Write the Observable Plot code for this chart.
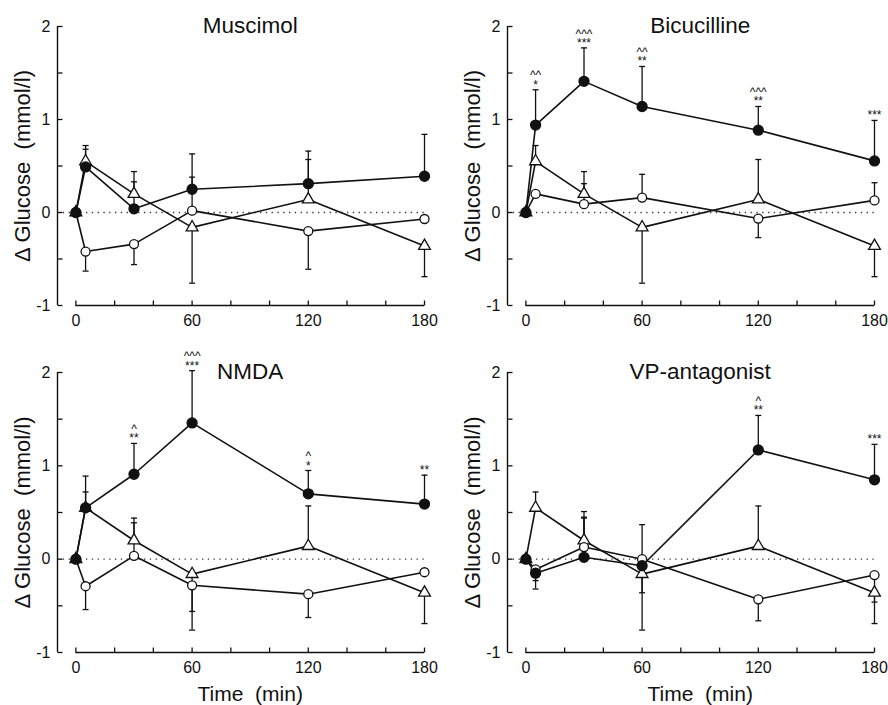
<!DOCTYPE html>
<html><head><meta charset="utf-8">
<script src="https://cdn.jsdelivr.net/npm/d3@7"></script>
<script src="https://cdn.jsdelivr.net/npm/@observablehq/plot@0.6"></script>
<style>
body{margin:0;background:#fff;}
#fig{position:relative;width:888px;height:705px;overflow:hidden;background:#fff;}
.panel{position:absolute;}
</style></head><body><div id="fig"></div>
<script>
// ---- data ----
const times = [0, 5, 30, 60, 120, 180];
const xTickMarks = [0, 20, 40, 60, 80, 100, 120, 140, 160, 180];
const xTickLabels = [0, 60, 120, 180];
const yDomain = [-1, 2];
const yTickMarks = [-1, -0.5, 0, 0.5, 1, 1.5, 2];
const yTickLabels = [-1, 0, 1, 2];
const titles = ["Muscimol", "Bicucilline", "NMDA", "VP-antagonist"];
const yLabel = "\u0394 Glucose\u00a0 (mmol/l)";
const xLabel = "Time\u00a0 (min)";

// open triangles (same in every panel)
const triangleMean = [0, 0.55, 0.2, -0.16, 0.14, -0.36];
const triangleErr  = [null, 0.72, 0.44, -0.76, 0.57, -0.69];

// Muscimol
const muscimolFilled    = [0, 0.49, 0.04, 0.25, 0.31, 0.39];
const muscimolFilledErr = [null, 0.68, 0.33, 0.63, 0.66, 0.84];
const muscimolOpen      = [0, -0.42, -0.34, 0.02, -0.2, -0.07];
const muscimolOpenErr   = [null, -0.63, -0.56, 0.38, -0.61, null];
const muscimolStars     = [null, null, null, null, null, null];
const muscimolCarets    = [null, null, null, null, null, null];

// Bicucilline
const bicFilled    = [0, 0.94, 1.41, 1.14, 0.885, 0.555];
const bicFilledErr = [null, 1.32, 1.77, 1.57, 1.14, 0.99];
const bicOpen      = [0, 0.2, 0.09, 0.16, -0.065, 0.13];
const bicOpenErr   = [null, null, 0.31, 0.41, -0.27, 0.32];
const bicStars     = [null, "*", "***", "**", "**", "***"];
const bicCarets    = [null, "^^", "^^^", "^^", "^^^", null];

// NMDA
const nmdaFilled    = [0, 0.55, 0.91, 1.46, 0.70, 0.59];
const nmdaFilledErr = [null, 0.89, 1.24, 2.02, 0.95, 0.90];
const nmdaOpen      = [0, -0.29, 0.036, -0.28, -0.375, -0.14];
const nmdaOpenErr   = [null, -0.54, 0.39, -0.56, -0.625, null];
const nmdaStars     = [null, null, "**", "***", "*", "**"];
const nmdaCarets    = [null, null, "^", "^^^", "^", null];

// VP-antagonist
const vpFilled    = [0, -0.15, 0.02, -0.07, 1.17, 0.85];
const vpFilledErr = [null, -0.32, 0.45, -0.36, 1.54, 1.23];
const vpOpen      = [0, -0.11, 0.13, 0.0, -0.43, -0.17];
const vpOpenErr   = [null, -0.23, 0.51, 0.37, -0.66, -0.46];
const vpStars     = [null, null, null, null, "**", "***"];
const vpCarets    = [null, null, null, null, "^", null];

// ---- drawing ----
const FONT = "'Liberation Sans', Arial, Helvetica, sans-serif";
const INK = "#111";
const xPad = 9.5;
const xDomain = [xTickMarks[0] - xPad, xTickMarks[xTickMarks.length - 1]];
const titleX = (xTickLabels[0] + xTickLabels[xTickLabels.length - 1]) / 2;

const capSymbol = {draw(ctx) { ctx.moveTo(-3, 0); ctx.lineTo(3, 0); }};
const tickRight = {draw(ctx) { ctx.moveTo(0, 0); ctx.lineTo(5, 0); }};
const tickUp = {draw(ctx) { ctx.moveTo(0, 0); ctx.lineTo(0, -5); }};

function panel(p) {
  const series = [
    {key: "triangle", mean: triangleMean, err: triangleErr},
    {key: "open", mean: p.open, err: p.openErr},
    {key: "filled", mean: p.filled, err: p.filledErr}
  ];
  const rows = series.flatMap(s => times.map((t, i) => ({t, v: s.mean[i], e: s.err[i], key: s.key})));
  const errRows = rows.filter(d => d.e != null);
  const ann = times.map((t, i) => ({t, e: p.filledErr[i],
    label: p.stars[i] ? (p.carets[i] ? p.carets[i] + "\n" + p.stars[i] : p.stars[i]) : null}))
    .filter(d => d.label);
  const marks = [
    Plot.ruleY([0], {x1: xDomain[0], x2: xDomain[1], stroke: "#333", strokeWidth: 1.3, strokeDasharray: "1.3,4.5"}),
    Plot.ruleX([xDomain[0]], {y1: yDomain[0], y2: yDomain[1], stroke: INK, strokeWidth: 1.4}),
    Plot.ruleY([yDomain[0]], {x1: xTickMarks[0], x2: xTickMarks[xTickMarks.length - 1], stroke: INK, strokeWidth: 1.4}),
    Plot.dot(yTickMarks, {y: d => d, frameAnchor: "left", symbol: tickRight, stroke: INK, strokeWidth: 1.3, fill: "none"}),
    Plot.dot(xTickMarks, {x: d => d, frameAnchor: "bottom", symbol: tickUp, stroke: INK, strokeWidth: 1.3, fill: "none"}),
    Plot.axisY(yTickLabels, {anchor: "left", tickSize: 0, tickPadding: 7, fontSize: 16, label: null, tickFormat: d => String(d), fill: INK}),
    Plot.axisX(xTickLabels, {anchor: "bottom", tickSize: 0, tickPadding: 9, fontSize: 16, label: null, tickFormat: d => String(d), fill: INK}),
    Plot.ruleX(errRows, {x: "t", y1: "v", y2: "e", stroke: INK, strokeWidth: 1.3}),
    Plot.dot(errRows, {x: "t", y: "e", symbol: capSymbol, stroke: INK, strokeWidth: 1.3, fill: "none"}),
    Plot.line(rows, {x: "t", y: "v", z: "key", stroke: INK, strokeWidth: 1.6}),
    Plot.dot(rows.filter(d => d.key === "triangle"), {x: "t", y: "v", symbol: "triangle", r: 4.4, fill: "white", stroke: INK, strokeWidth: 1.3}),
    Plot.dot(rows.filter(d => d.key === "open"), {x: "t", y: "v", r: 4.5, fill: "white", stroke: INK, strokeWidth: 1.3}),
    Plot.dot(rows.filter(d => d.key === "filled"), {x: "t", y: "v", r: 4.9, fill: INK, stroke: INK}),
    Plot.text(ann, {x: "t", y: "e", text: "label", lineAnchor: "bottom", lineHeight: 0.78, dy: -1, fontSize: 12, fill: INK}),
    Plot.text([p.title], {x: d => titleX, y: d => yDomain[1], text: d => d, lineAnchor: "bottom", dy: 6, fontSize: 22.5, fill: INK}),
    Plot.text([yLabel], {frameAnchor: "left", text: d => d, rotate: -90, dx: -35, fontSize: 22, fill: INK, textAnchor: "middle", lineAnchor: "middle"})
  ];
  if (p.showX) marks.push(Plot.text([xLabel], {x: d => titleX, frameAnchor: "bottom", text: d => d, lineAnchor: "bottom", dy: 48, fontSize: 21, fill: INK}));
  const chart = Plot.plot({
    width: 444, height: p.h,
    marginLeft: p.ml, marginRight: p.mr, marginTop: p.mt, marginBottom: p.mb,
    x: {domain: xDomain},
    y: {domain: yDomain},
    style: {fontFamily: FONT, background: "white", color: INK, overflow: "visible"},
    marks
  });
  const div = document.createElement("div");
  div.className = "panel";
  div.style.left = p.left + "px";
  div.style.top = p.top + "px";
  div.appendChild(chart);
  document.getElementById("fig").appendChild(div);
}

panel({title: titles[0], filled: muscimolFilled, filledErr: muscimolFilledErr, open: muscimolOpen, openErr: muscimolOpenErr, stars: muscimolStars, carets: muscimolCarets,
  left: 0, top: 0, h: 340, ml: 57, mr: 20, mt: 26, mb: 35, showX: false});
panel({title: titles[1], filled: bicFilled, filledErr: bicFilledErr, open: bicOpen, openErr: bicOpenErr, stars: bicStars, carets: bicCarets,
  left: 444, top: 0, h: 340, ml: 63, mr: 14, mt: 26, mb: 35, showX: false});
panel({title: titles[2], filled: nmdaFilled, filledErr: nmdaFilledErr, open: nmdaOpen, openErr: nmdaOpenErr, stars: nmdaStars, carets: nmdaCarets,
  left: 0, top: 340, h: 365, ml: 57, mr: 20, mt: 32, mb: 53, showX: true});
panel({title: titles[3], filled: vpFilled, filledErr: vpFilledErr, open: vpOpen, openErr: vpOpenErr, stars: vpStars, carets: vpCarets,
  left: 444, top: 340, h: 365, ml: 63, mr: 14, mt: 32, mb: 53, showX: true});
</script></body></html>
